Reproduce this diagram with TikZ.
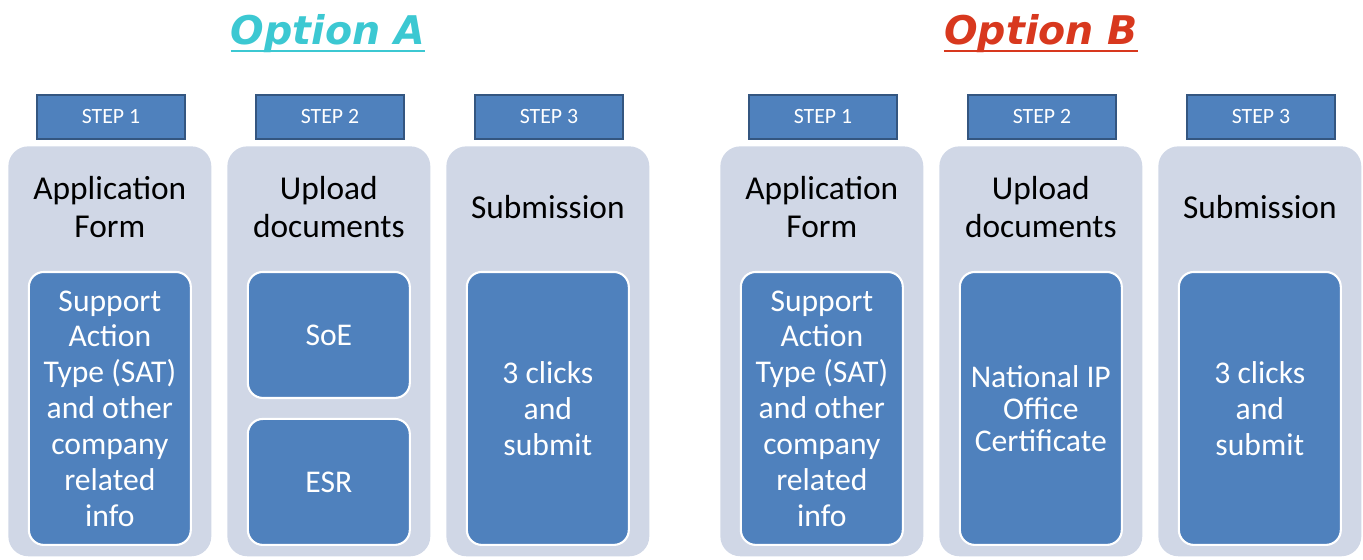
\documentclass[tikz,border=0pt]{standalone}
\usepackage{fontspec}
\setmainfont{Carlito}
\newfontfamily\titlefont{DejaVu Sans}
\usetikzlibrary{positioning}

\definecolor{colgray}{RGB}{208,215,230}
\definecolor{stepblue}{RGB}{79,129,189}
\definecolor{stepline}{RGB}{52,86,128}
\definecolor{optA}{RGB}{60,200,210}
\definecolor{optB}{RGB}{216,56,30}

\tikzset{
  column/.style={fill=colgray, rounded corners=0.4cm, minimum width=4.06cm, minimum height=8.2cm, anchor=north west, inner sep=0pt},
  stepbox/.style={fill=stepblue, draw=stepline, line width=1pt, minimum width=2.96cm, minimum height=0.88cm, inner sep=0pt, text=white, font=\fontsize{12.4}{14}\selectfont},
  head/.style={align=center, font=\fontsize{19}{21.5}\selectfont},
  detail/.style={fill=stepblue, draw=white, line width=1.2pt, rounded corners=0.3cm, text=white, align=center, minimum width=3.24cm, minimum height=5.46cm, inner sep=0pt, font=\fontsize{18}{20.4}\selectfont},
  title/.style={inner sep=0pt, font=\titlefont\bfseries\itshape\fontsize{22.5}{26}\selectfont}
}

\begin{document}
\begin{tikzpicture}[x=0.02cm, y=-0.02cm]
 \useasboundingbox (0,0) rectangle (1363,560);

 %titles
 \node[title, text=optA] (titleA) at (328,34) {Option A};
 \draw[optA, line width=1.2pt] ([yshift=-3.4pt]titleA.base west) -- ([yshift=-3.4pt]titleA.base east);
 \node[title, text=optB] (titleB) at (1041,34) {Option B};
 \draw[optB, line width=1.2pt] ([yshift=-3.4pt]titleB.base west) -- ([yshift=-3.4pt]titleB.base east);

 %columns and steps
 \foreach \opt/\dx in {A/0, B/712} {
   \foreach \i/\txt in {1/{Application\\Form}, 2/{Upload\\documents}, 3/{Submission}} {
     \node[column] (col\opt\i) at (\dx + 219*\i - 211, 146) {};
     \node[stepbox] (step\opt\i) at (\dx + 219*\i - 108, 117) {STEP \i};
     \node[head] (head\opt\i) at ([yshift=-1.22cm]col\opt\i.north) {\txt};
   }
   \node[detail] (info\opt) at ([yshift=-5.25cm]col\opt1.north) {Support\\Action\\Type (SAT)\\and other\\company\\related\\info};
   \node[detail] (submit\opt) at ([yshift=-5.25cm]col\opt3.north) {3 clicks\\and\\submit};
 }

 %upload boxes
 \node[detail, minimum height=2.52cm] (soe) at ([yshift=-3.78cm]colA2.north) {SoE};
 \node[detail, minimum height=2.52cm] (esr) at ([yshift=-6.72cm]colA2.north) {ESR};
 \node[detail, font=\fontsize{18}{18.2}\selectfont] (cert) at ([yshift=-5.25cm]colB2.north) {National IP\\Office\\Certificate};

\end{tikzpicture}
\end{document}
